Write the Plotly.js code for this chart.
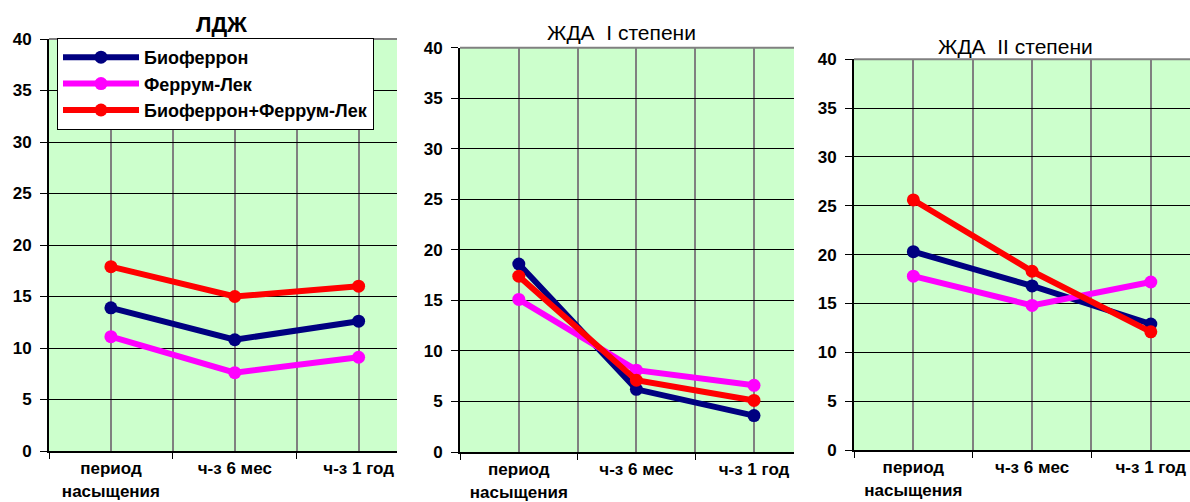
<!DOCTYPE html>
<html>
<head>
<meta charset="utf-8">
<script src="https://cdn.plot.ly/plotly-3.0.1.min.js"></script>
<style>html,body{margin:0;padding:0;background:#fff;}#chart{width:1190px;height:502px;}</style>
</head>
<body>
<div id="chart"></div>
<script>
// ---- data ----
const categories = ['период<br>насыщения', 'ч-з 6 мес', 'ч-з 1 год'];
const seriesNames = ['Биоферрон', 'Феррум-Лек', 'Биоферрон+Феррум-Лек'];
const panelTitles = ['ЛДЖ', 'ЖДА  I степени', 'ЖДА  II степени'];

const ldzh_bioferron = [13.9, 10.8, 12.6];
const ldzh_ferrumLek = [11.1, 7.6, 9.1];
const ldzh_combo     = [17.9, 15.0, 16.0];

const zda1_bioferron = [18.6, 6.2, 3.6];
const zda1_ferrumLek = [15.1, 8.1, 6.6];
const zda1_combo     = [17.4, 7.1, 5.1];

const zda2_bioferron = [20.3, 16.8, 12.9];
const zda2_ferrumLek = [17.8, 14.8, 17.2];
const zda2_combo     = [25.6, 18.3, 12.1];

// ---- styling ----
const colors = ['#000080', '#FF00FF', '#FF0000'];
const FONT = 'Liberation Sans, Arial, sans-serif';
const W = 1190, H = 502;
const xIdx = categories.map((c, i) => i);

const panels = [
  {data: [ldzh_bioferron, ldzh_ferrumLek, ldzh_combo], left: 49, right: 397, top: 39, bottom: 451, xmax: 2.31, titleX: 221, titleY: 25, bold: true},
  {data: [zda1_bioferron, zda1_ferrumLek, zda1_combo], left: 460, right: 794, top: 47.7, bottom: 452, xmax: 2.34, titleX: 621, titleY: 33, bold: false},
  {data: [zda2_bioferron, zda2_ferrumLek, zda2_combo], left: 854, right: 1190, top: 59.3, bottom: 450, xmax: 2.33, titleX: 1015, titleY: 46, bold: false}
];

const traces = [];
const layout = {
  width: W, height: H,
  margin: {l: 0, r: 0, t: 0, b: 0},
  paper_bgcolor: '#ffffff',
  plot_bgcolor: '#CCFFCC',
  font: {family: FONT, color: '#000'},
  showlegend: true,
  legend: {
    x: 57 / W, y: 1 - 38 / H, xanchor: 'left', yanchor: 'top',
    bgcolor: '#ffffff', bordercolor: '#000', borderwidth: 1,
    font: {family: FONT, size: 18, weight: 'bold', color: '#000'},
    itemwidth: 76, tracegroupgap: 0
  },
  annotations: [],
  shapes: []
};

panels.forEach((p, k) => {
  const sfx = k === 0 ? '' : String(k + 1);
  p.data.forEach((vals, s) => {
    traces.push({
      type: 'scatter', mode: 'lines+markers',
      x: xIdx, y: vals, name: seriesNames[s],
      xaxis: 'x' + sfx, yaxis: 'y' + sfx,
      line: {color: colors[s], width: 6},
      marker: {color: colors[s], size: 13},
      showlegend: k === 0,
      hoverinfo: 'skip'
    });
  });
  layout['xaxis' + sfx] = {
    domain: [p.left / W, p.right / W],
    range: [-0.5, p.xmax],
    anchor: 'y' + sfx,
    tickmode: 'array', tickvals: xIdx, ticktext: categories,
    ticks: '',
    showgrid: true, gridcolor: '#808080', gridwidth: 2,
    minor: {tickmode: 'array', tickvals: [-0.5, 0.5, 1.5, 2.5], ticks: 'outside', ticklen: 6, tickwidth: 1, tickcolor: '#000', showgrid: true, gridcolor: '#808080', gridwidth: 2},
    showline: true, linecolor: '#000', linewidth: 2,
    zeroline: false,
    ticklabelstandoff: 1,
    tickfont: {family: FONT, size: 17, weight: 'bold', color: '#000'},
    fixedrange: true
  };
  layout['yaxis' + sfx] = {
    domain: [1 - p.bottom / H, 1 - p.top / H],
    range: [0, 40],
    anchor: 'x' + sfx,
    tickmode: 'linear', tick0: 0, dtick: 5,
    ticks: 'outside', ticklen: 7, tickcolor: '#000', tickwidth: 1,
    showgrid: true, gridcolor: '#000', gridwidth: 1,
    showline: true, linecolor: '#000', linewidth: 2,
    zeroline: false,
    ticklabelstandoff: 5,
    tickfont: {family: FONT, size: 17, weight: 'bold', color: '#000'},
    fixedrange: true
  };
  layout.shapes.push({
    type: 'line', xref: 'x' + sfx + ' domain', yref: 'y' + sfx + ' domain',
    x0: 0, x1: 1, y0: 1, y1: 1, line: {color: '#808080', width: 2}, layer: 'above'
  });
  layout.annotations.push({
    xref: 'paper', yref: 'paper', x: p.titleX / W, y: 1 - p.titleY / H,
    xanchor: 'center', yanchor: 'middle', showarrow: false,
    text: panelTitles[k],
    font: {family: FONT, size: p.bold ? 22 : 21, weight: p.bold ? 'bold' : 'normal', color: '#000'}
  });
});

Plotly.newPlot('chart', traces, layout, {displayModeBar: false, staticPlot: true});
</script>
</body>
</html>
